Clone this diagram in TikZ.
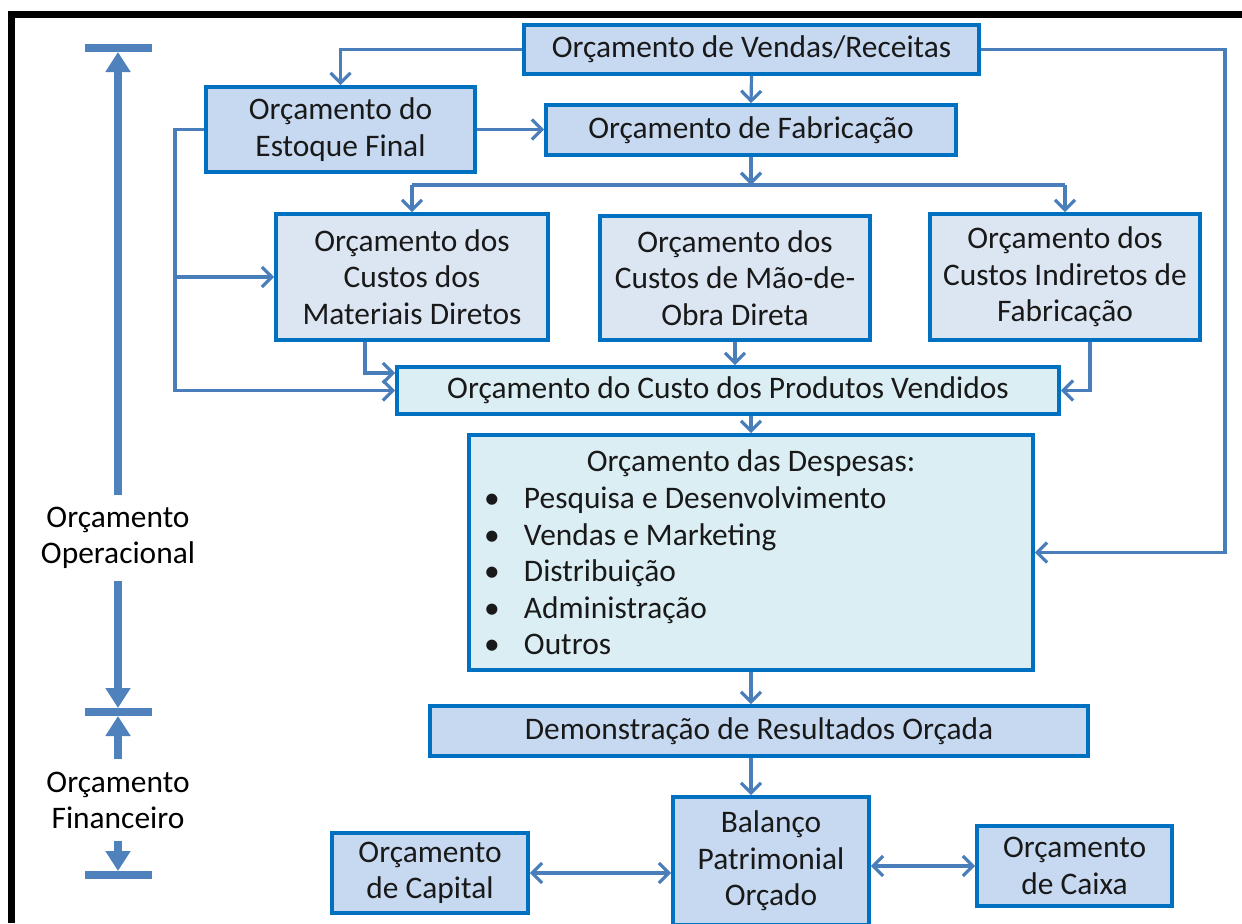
\documentclass[tikz,border=0pt]{standalone}
\usepackage{fontspec}
\setmainfont{Carlito}
\usetikzlibrary{arrows.meta}

\definecolor{boxline}{HTML}{0070C0}
\definecolor{linkline}{HTML}{4A7EBB}
\definecolor{markblue}{HTML}{4F81BD}
\definecolor{darkfill}{HTML}{C6D9F1}
\definecolor{midfill}{HTML}{DCE6F2}
\definecolor{cyanfill}{HTML}{DBEEF4}

\tikzset{
  box/.style={draw=boxline, line width=1.9pt, align=center, inner sep=2pt,
    text=black!90, font=\fontsize{15.7}{18.3}\selectfont},
  link/.style={draw=linkline, line width=1.6pt, -{Straight Barb[width=10pt,length=5pt]}},
  twolink/.style={draw=linkline, line width=1.6pt,
    {Straight Barb[width=10pt,length=5pt]}-{Straight Barb[width=10pt,length=5pt]}},
  lbl/.style={align=center, inner sep=6pt, font=\fontsize{15.7}{18}\selectfont},
  bar/.style={draw=markblue, line width=4pt},
  bigarrow/.style={draw=markblue, line width=4pt, -{Triangle[width=12pt,length=10pt]}}
}
\newcommand{\blt}{\hspace*{2.5pt}\makebox[20pt][l]{\textbullet}}

\begin{document}
\begin{tikzpicture}[x=0.5pt, y=-0.5pt]
  \useasboundingbox (0,0) rectangle (1242,923);
  % frame
  \draw[line width=3.5pt, line join=miter] (11.5,923) -- (11.5,14.5) -- (1242,14.5);

  % budget boxes
  \node[box, fill=darkfill, minimum width=227.5pt, minimum height=24.5pt] (vendas) at (751.5,49.5) {Orçamento de Vendas/Receitas};
  \node[box, fill=darkfill, minimum width=134.5pt, minimum height=42.5pt] (estoque) at (340.5,129.5) {Orçamento do\\Estoque Final};
  \node[box, fill=darkfill, minimum width=205pt, minimum height=25pt] (fabric) at (751,130) {Orçamento de Fabricação};
  \node[box, fill=midfill, minimum width=136pt, minimum height=63pt] (materiais) at (412,277) {Orçamento dos\\Custos dos\\Materiais Diretos};
  \node[box, fill=midfill, minimum width=135pt, minimum height=62pt] (maoobra) at (735,278) {Orçamento dos\\Custos de Mão-de-\\Obra Direta};
  \node[box, fill=midfill, minimum width=135pt, minimum height=63pt] (indiretos) at (1065,277) {Orçamento dos\\Custos Indiretos de\\Fabricação};
  \node[box, fill=cyanfill, minimum width=331pt, minimum height=23.5pt] (cpv) at (728,390.5) {Orçamento do Custo dos Produtos Vendidos};
  \node[box, fill=cyanfill, minimum width=282pt, minimum height=117.5pt, align=left, inner sep=5pt] (despesas) at (751,552.5)
    {\makebox[272pt][c]{Orçamento das Despesas:}\\
     \blt Pesquisa e Desenvolvimento\\
     \blt Vendas e Marketing\\
     \blt Distribuição\\
     \blt Administração\\
     \blt Outros};
  \node[box, fill=darkfill, minimum width=329pt, minimum height=25pt] (demonst) at (759,731) {Demonstração de Resultados Orçada};
  \node[box, fill=darkfill, minimum width=98pt, minimum height=64pt] (balanco) at (771,861) {Balanço\\Patrimonial\\Orçado};
  \node[box, fill=darkfill, minimum width=98pt, minimum height=40pt] (capital) at (430,873) {Orçamento\\de Capital};
  \node[box, fill=darkfill, minimum width=97.5pt, minimum height=40pt] (caixa) at (1074.5,866) {Orçamento\\de Caixa};

  % connectors
  \coordinate (rgt) at (1225,49.5);
  \coordinate (lft) at (175,129.5);
  \coordinate (split) at (751,185);
  \draw[link] (vendas.west) -| (estoque.north);
  \draw[link] (vendas.south) -- (fabric.north);
  \draw[link] (vendas.east) -- (rgt) |- (despesas.east);
  \draw[link] (estoque.east) -- (fabric.west |- estoque.east);
  \draw[link] (estoque.west) -- (lft) |- (cpv.west);
  \draw[link] (lft |- materiais.west) -- (materiais.west);
  \draw[link] (fabric.south) -- (split);
  \draw[draw=linkline, line width=1.6pt] (materiais.north |- split) -- (indiretos.north |- split);
  \draw[link] (materiais.north |- split) -- (materiais.north);
  \draw[link] (indiretos.north |- split) -- (indiretos.north);
  \draw[link] ([xshift=-23.5pt]materiais.south) |- ([yshift=8.75pt]cpv.west);
  \draw[link] (maoobra.south) -- (maoobra.south |- cpv.north);
  \draw[link] ([xshift=12.5pt]indiretos.south) |- (cpv.east);
  \draw[link] (despesas.north |- cpv.south) -- (despesas.north);
  \draw[link] (despesas.south) -- (despesas.south |- demonst.north);
  \draw[link] (despesas.south |- demonst.south) -- (despesas.south |- balanco.north);
  \draw[twolink] (capital.east) -- (capital.east -| balanco.west);
  \draw[twolink] (caixa.west -| balanco.east) -- (caixa.west);

  % left markers
  \node[lbl] (op) at (118,538) {Orçamento\\Operacional};
  \node[lbl] (fin) at (118,800) {Orçamento\\Financeiro};
  \coordinate (topbar) at (118,48);
  \coordinate (midbar) at (118,712);
  \coordinate (lowbar) at (118,875);
  \foreach \y in {48,712,875}
    \draw[bar] (85,\y) -- (152,\y);
  \draw[bigarrow, shorten >=2pt] (op.north) -- (topbar);
  \draw[bigarrow, shorten >=2pt] (op.south) -- (midbar);
  \draw[bigarrow, shorten >=2pt] (fin.north) -- (midbar);
  \draw[bigarrow, shorten >=2pt] (fin.south) -- (lowbar);
\end{tikzpicture}
\end{document}
